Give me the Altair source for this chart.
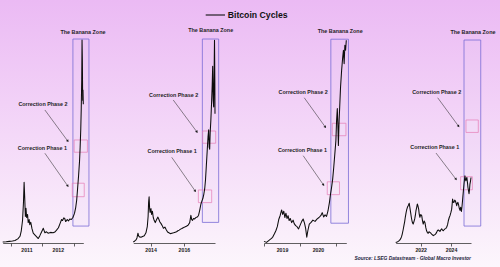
import altair as alt
import pandas as pd

FONT = "Liberation Sans"
TITLE = "Bitcoin Cycles"
SOURCE = "Source: LSEG Datastream - Global Macro Investor"
ZONE_LABEL = "The Banana Zone"
CP2_LABEL = "Correction Phase 2"
CP1_LABEL = "Correction Phase 1"

# ---- Cycle 1 (2010-2013) : decimal year, relative log-price level (0-100)
P1_T = [2010.74, 2010.85, 2010.95, 2011.05, 2011.13, 2011.22, 2011.29, 2011.33, 2011.37, 2011.40,
        2011.42, 2011.44, 2011.46, 2011.48, 2011.50, 2011.53, 2011.55, 2011.58, 2011.60, 2011.63,
        2011.67, 2011.71, 2011.76, 2011.82, 2011.87, 2011.92, 2011.97, 2012.03, 2012.08, 2012.13,
        2012.18, 2012.26, 2012.34, 2012.40, 2012.45, 2012.51, 2012.56, 2012.61, 2012.64, 2012.68,
        2012.71, 2012.74, 2012.79, 2012.83, 2012.87, 2012.92, 2012.97, 2013.02, 2013.06, 2013.09,
        2013.12, 2013.15, 2013.18, 2013.20, 2013.22, 2013.235, 2013.25, 2013.26, 2013.27, 2013.28,
        2013.29, 2013.30]
P1_V = [0.5, 0.6, 0.8, 1.0, 1.2, 2.0, 3.3, 6.0, 11.0, 20.0,
        29.8, 22.0, 13.0, 17.0, 12.5, 14.0, 10.0, 11.5, 9.0, 10.2,
        7.0, 4.8, 4.0, 3.0, 2.2, 3.6, 5.3, 7.2, 5.0, 5.5,
        4.8, 5.2, 5.0, 5.4, 6.3, 7.5, 9.5, 11.5, 11.0, 12.3,
        12.0, 10.5, 11.5, 10.8, 11.8, 11.5, 12.5, 14.5, 17.5, 21.0,
        27.0, 33.0, 40.0, 47.0, 56.0, 66.0, 80.0, 99.5, 90.0, 70.0,
        75.0, 68.0]

# ---- Cycle 2 (2013-2017)
P2_T = [2012.96, 2013.05, 2013.12, 2013.18, 2013.24, 2013.28, 2013.33, 2013.42, 2013.52, 2013.62,
        2013.72, 2013.80, 2013.85, 2013.88, 2013.91, 2013.94, 2013.97, 2014.02, 2014.06, 2014.11,
        2014.16, 2014.22, 2014.28, 2014.36, 2014.44, 2014.50, 2014.56, 2014.63, 2014.70, 2014.77,
        2014.86, 2014.94, 2015.02, 2015.10, 2015.18, 2015.28, 2015.38, 2015.48, 2015.56, 2015.64,
        2015.72, 2015.80, 2015.88, 2015.96, 2016.05, 2016.15, 2016.25, 2016.35, 2016.42, 2016.47,
        2016.52, 2016.58, 2016.65, 2016.72, 2016.80, 2016.88, 2016.95, 2017.02, 2017.08, 2017.14,
        2017.20, 2017.25, 2017.30, 2017.35, 2017.40, 2017.45, 2017.49, 2017.52, 2017.55, 2017.58,
        2017.62, 2017.66, 2017.70, 2017.73, 2017.76, 2017.79, 2017.82, 2017.84, 2017.86, 2017.87]
P2_V = [0.5, 1.0, 1.5, 2.5, 4.8, 3.5, 3.0, 2.8, 3.2, 3.6,
        5.0, 8.0, 13.0, 20.0, 22.7, 17.0, 15.0, 16.9, 14.0, 15.5,
        12.5, 11.0, 10.0, 11.5, 12.7, 11.5, 10.3, 9.5, 8.5, 7.2,
        7.8, 6.5, 5.4, 5.0, 4.6, 4.8, 5.0, 5.3, 5.5, 6.0,
        6.3, 6.8, 7.1, 7.5, 7.8, 8.2, 8.7, 10.0, 13.6, 11.5,
        11.1, 12.0, 11.8, 12.5, 12.7, 13.5, 16.0, 19.0, 20.5, 21.8,
        24.0, 26.5, 31.0, 38.0, 45.0, 52.0, 55.5, 47.0, 46.0, 54.0,
        60.0, 68.0, 77.0, 86.6, 70.0, 66.7, 85.0, 99.4, 80.0, 63.4]

# ---- Cycle 3 (2019-2021)
P3_T = [2019.00, 2019.07, 2019.13, 2019.19, 2019.24, 2019.29, 2019.33, 2019.37, 2019.41, 2019.45,
        2019.49, 2019.52, 2019.55, 2019.58, 2019.61, 2019.64, 2019.67, 2019.70, 2019.73, 2019.77,
        2019.81, 2019.84, 2019.88, 2019.92, 2019.96, 2020.00, 2020.05, 2020.09, 2020.13, 2020.16,
        2020.19, 2020.22, 2020.26, 2020.31, 2020.36, 2020.42, 2020.48, 2020.53, 2020.58, 2020.62,
        2020.66, 2020.70, 2020.74, 2020.78, 2020.82, 2020.85, 2020.88, 2020.91, 2020.94, 2020.97,
        2021.00, 2021.02, 2021.04, 2021.06, 2021.07, 2021.09, 2021.11, 2021.13, 2021.16, 2021.19,
        2021.21, 2021.23, 2021.25, 2021.27, 2021.29]
P3_V = [0.8, 0.3, 1.2, 2.0, 2.8, 4.5, 6.0, 8.0, 11.5, 13.5,
        16.2, 14.0, 15.6, 12.5, 14.6, 12.0, 13.4, 11.0, 12.0, 10.0,
        11.2, 9.5, 8.5, 8.0, 6.9, 8.5, 10.6, 11.8, 9.5, 7.0,
        2.8, 6.0, 9.3, 10.1, 11.2, 10.6, 11.8, 12.5, 13.4, 14.9,
        12.8, 13.8, 13.0, 15.7, 19.8, 23.9, 27.2, 31.2, 37.0, 43.5,
        50.1, 60.2, 65.9, 55.2, 47.8, 60.1, 68.3, 76.5, 84.7, 91.2,
        94.5, 87.9, 96.9, 94.5, 99.4]

# ---- Cycle 4 (2020-2025)
P4_T = [2020.36, 2020.45, 2020.53, 2020.61, 2020.68, 2020.74, 2020.79, 2020.85, 2020.90, 2020.95,
        2020.99, 2021.04, 2021.08, 2021.13, 2021.18, 2021.25, 2021.30, 2021.34, 2021.39, 2021.43,
        2021.47, 2021.51, 2021.56, 2021.61, 2021.65, 2021.69, 2021.74, 2021.78, 2021.83, 2021.87,
        2021.91, 2021.95, 2022.01, 2022.07, 2022.12, 2022.17, 2022.23, 2022.28, 2022.34, 2022.39,
        2022.45, 2022.50, 2022.55, 2022.61, 2022.67, 2022.72, 2022.78, 2022.83, 2022.89, 2022.94,
        2023.00, 2023.05, 2023.10, 2023.16, 2023.22, 2023.27, 2023.33, 2023.38, 2023.44, 2023.49,
        2023.55, 2023.60, 2023.66, 2023.71, 2023.77, 2023.82, 2023.88, 2023.93, 2023.99, 2024.04,
        2024.07, 2024.10, 2024.14, 2024.19, 2024.24, 2024.28, 2024.33, 2024.37, 2024.41, 2024.45,
        2024.50, 2024.54, 2024.59, 2024.63, 2024.68, 2024.72, 2024.75, 2024.78, 2024.82, 2024.85,
        2024.88, 2024.91, 2024.94, 2024.97, 2025.01, 2025.04, 2025.08, 2025.11, 2025.15, 2025.18,
        2025.21, 2025.24, 2025.28, 2025.31]
P4_V = [0.3, 0.5, 0.8, 1.3, 2.0, 3.0, 4.4, 6.5, 8.5, 10.5,
        12.6, 14.8, 16.2, 17.5, 18.3, 19.5, 17.0, 15.0, 12.5, 10.9,
        9.8, 9.3, 10.5, 11.8, 13.5, 15.7, 17.5, 19.1, 18.0, 16.6,
        14.0, 12.6, 14.0, 13.4, 11.0, 9.3, 10.8, 10.1, 7.5, 6.0,
        5.0, 4.8, 5.5, 5.2, 4.8, 4.4, 4.0, 3.6, 3.9, 4.1,
        4.6, 5.2, 6.0, 6.4, 6.0, 5.7, 6.5, 6.9, 6.3, 6.0,
        6.6, 6.9, 7.2, 7.7, 9.0, 10.9, 12.5, 13.4, 15.0, 16.6,
        19.0, 21.5, 20.0, 19.9, 21.0, 20.7, 19.5, 18.3, 19.5, 19.9,
        18.5, 17.0, 16.0, 17.5, 15.5, 18.0, 20.5, 23.2, 26.5, 28.9,
        31.0, 32.9, 31.5, 30.5, 31.5, 32.1, 29.5, 27.2, 25.5, 24.2,
        26.0, 28.9, 30.5, 32.1]

# axis ticks / labelled years per panel
P1_TICKS, P1_LABELS = [2011, 2012, 2013], [2011, 2012]
P2_TICKS, P2_LABELS = [2014, 2016], [2014, 2016]
P3_TICKS, P3_LABELS = [2019, 2020, 2021], [2019, 2020]
P4_TICKS, P4_LABELS = [2022, 2024], [2022, 2024]

# annotation boxes: [t_start, t_end, level_low, level_high]
P1_ZONE, P1_CP2, P1_CP1 = [2012.97, 2013.48, 8.3, 100.0], [2013.01, 2013.43, 44.5, 50.5], [2012.95, 2013.33, 22.7, 29.3]
P2_ZONE, P2_CP2, P2_CP1 = [2017.11, 2018.09, 10.1, 100.0], [2017.13, 2017.91, 48.9, 54.9], [2016.87, 2017.67, 19.8, 26.0]
P3_ZONE, P3_CP2, P3_CP1 = [2020.86, 2021.35, 9.7, 99.9], [2020.90, 2021.28, 52.6, 58.7], [2020.76, 2021.10, 23.7, 30.0]
P4_ZONE, P4_CP2, P4_CP1 = [2024.85, 2025.95, 8.3, 99.5], [2024.98, 2025.79, 54.2, 60.3], [2024.63, 2025.40, 26.1, 32.5]

# label anchors [t, level] for zone, cp2, cp1
P1_TXT = [[2013.29, 103.4], [2012.02, 68.1], [2012.00, 46.7]]
P2_TXT = [[2017.61, 104.3], [2015.38, 72.7], [2015.29, 45.0]]
P3_TXT = [[2021.12, 103.8], [2020.09, 73.9], [2020.07, 45.7]]
P4_TXT = [[2025.44, 103.4], [2023.06, 73.9], [2022.93, 47.2]]

# arrows [t_from, level_from, t_to, level_to] for cp2, cp1
P1_ARR = [[2012.08, 65.2, 2012.80, 50.1], [2012.08, 44.0, 2012.80, 28.1]]
P2_ARR = [[2015.36, 70.1, 2016.77, 54.6], [2015.27, 42.0, 2016.67, 25.6]]
P3_ARR = [[2020.12, 71.2, 2020.70, 57.0], [2020.09, 42.8, 2020.65, 28.6]]
P4_ARR = [[2023.12, 71.2, 2024.48, 57.4], [2023.01, 44.1, 2024.31, 31.4]]


def panel(t, v, x_range, ticks, labels, label_offset, zone, cp2, cp1, txt, arr):
    labelled = ",".join(str(y) for y in labels)
    X = alt.X("t:Q",
              scale=alt.Scale(domain=[min(t), max(t)], range=x_range, nice=False, zero=False),
              axis=alt.Axis(values=ticks, orient="bottom", offset=-24, zindex=1,
                            labelOffset=label_offset,
                            labelExpr=f"indexof([{labelled}], datum.value) >= 0 ? format(datum.value, 'd') : ''",
                            labelFlush=False, labelOverlap=False, grid=False, title=None,
                            domainColor="#3a3a3a", domainWidth=0.8, tickColor="#3a3a3a",
                            tickWidth=0.8, tickSize=3, labelFont=FONT, labelFontSize=5.2,
                            labelFontWeight="bold", labelColor="#1a1a1a", labelPadding=1.5))
    Y = alt.Y("v:Q", scale=alt.Scale(domain=[0, 100], range=[243, 39], nice=False, zero=False), axis=None)

    zone_df = pd.DataFrame({"t": [zone[0]], "t2": [zone[1]], "v": [zone[2]], "v2": [zone[3]]})
    cp_df = pd.DataFrame({"t": [cp2[0], cp1[0]], "t2": [cp2[1], cp1[1]],
                          "v": [cp2[2], cp1[2]], "v2": [cp2[3], cp1[3]]})
    line_df = pd.DataFrame({"t": t, "v": v})
    txt_df = pd.DataFrame({"t": [p[0] for p in txt], "v": [p[1] for p in txt],
                           "label": [ZONE_LABEL, CP2_LABEL, CP1_LABEL]})
    arr_df = pd.DataFrame({"t": [a[0] for a in arr], "v": [a[1] for a in arr],
                           "t2": [a[2] for a in arr], "v2": [a[3] for a in arr]})
    head_df = pd.DataFrame({"t": [a[2] for a in arr], "v": [a[3] for a in arr]})

    zone_l = alt.Chart(zone_df).mark_rect(fill="#d6cef6", fillOpacity=0.08, stroke="#7a6cd6",
                                          strokeWidth=0.8).encode(x=X, x2="t2:Q", y=Y, y2="v2:Q")
    cp_l = alt.Chart(cp_df).mark_rect(fill="#ffffff", fillOpacity=0.12, stroke="#e57db6",
                                      strokeWidth=0.7).encode(x=X, x2="t2:Q", y=Y, y2="v2:Q")
    line_l = alt.Chart(line_df).mark_line(color="#0d0d0d", strokeWidth=1.05,
                                          strokeJoin="round").encode(x=X, y=Y, order="t:Q")
    arr_l = alt.Chart(arr_df).mark_rule(color="#2a2a2a", strokeWidth=0.55).encode(
        x=X, x2="t2:Q", y=Y, y2="v2:Q")
    head_l = alt.Chart(head_df).mark_point(shape="triangle", angle=144, filled=True, size=8,
                                           color="#1a1a1a", opacity=1).encode(x=X, y=Y)
    txt_l = alt.Chart(txt_df).mark_text(font=FONT, fontSize=5.4, fontWeight="bold",
                                        color="#1f1f1f", align="center", baseline="middle").encode(
        x=X, y=Y, text="label:N")
    return alt.layer(zone_l, cp_l, line_l, arr_l, head_l, txt_l)


p1 = panel(P1_T, P1_V, [2.7, 83.3], P1_TICKS, P1_LABELS, 15.5, P1_ZONE, P1_CP2, P1_CP1, P1_TXT, P1_ARR)
p2 = panel(P2_T, P2_V, [133.3, 215.0], P2_TICKS, P2_LABELS, 0, P2_ZONE, P2_CP2, P2_CP1, P2_TXT, P2_ARR)
p3 = panel(P3_T, P3_V, [264.0, 346.3], P3_TICKS, P3_LABELS, 18, P3_ZONE, P3_CP2, P3_CP1, P3_TXT, P3_ARR)
p4 = panel(P4_T, P4_V, [395.7, 471.0], P4_TICKS, P4_LABELS, 0, P4_ZONE, P4_CP2, P4_CP1, P4_TXT, P4_ARR)

one = pd.DataFrame({"k": [0]})
grad = alt.Gradient(gradient="linear",
                    stops=[alt.GradientStop(color="#ebbaf4", offset=0),
                           alt.GradientStop(color="#f4d8f8", offset=0.5),
                           alt.GradientStop(color="#fcf6fc", offset=1)],
                    x1=0, x2=0, y1=0, y2=1)
bg = alt.Chart(one).mark_rect(fill=grad).encode(
    x=alt.value(0), x2=alt.value(500), y=alt.value(0), y2=alt.value(267))

legend_line = alt.Chart(one).mark_rule(color="#111111", strokeWidth=1.1).encode(
    x=alt.value(205.7), x2=alt.value(225), y=alt.value(15))
legend_text = alt.Chart(one).mark_text(text=TITLE, align="left", baseline="middle", font=FONT,
                                       fontSize=8.7, fontWeight="bold", color="#111111").encode(
    x=alt.value(227.7), y=alt.value(15))
source = alt.Chart(one).mark_text(text=SOURCE, align="right", baseline="middle", font=FONT,
                                  fontSize=4.9, fontWeight="bold", fontStyle="italic",
                                  color="#1e1e3c").encode(x=alt.value(471), y=alt.value(259.3))

chart = alt.layer(bg, p1, p2, p3, p4, legend_line, legend_text, source).resolve_scale(
    x="independent").resolve_axis(x="independent").properties(
    width=500, height=267, padding=0, autosize=alt.AutoSizeParams(type="none")
).configure_view(strokeWidth=0).configure(background="#fcf6fc")

chart.save("out.html", embed_options={"renderer": "svg", "actions": False})
